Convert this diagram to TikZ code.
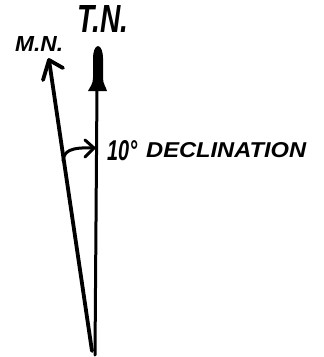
\documentclass[tikz,border=0pt]{standalone}
\usepackage{fontspec}
\setmainfont{Liberation Sans}
\usepackage{graphicx}
\begin{document}
\begin{tikzpicture}[x=1pt,y=-1pt,
  ink/.style={line cap=round,line join=round,draw=black},
  lbl/.style={inner sep=0pt,anchor=south west,font=\bfseries\itshape}]
\useasboundingbox (0,0) rectangle (324,357);
% key points
\coordinate (base) at (95,355);
\coordinate (tnbase) at (97,88);
\coordinate (tntip) at (98,46);
\coordinate (mntip) at (49,60);
\coordinate (mnbase) at (92,351);
\coordinate (arcs) at (63,161);
\coordinate (arce) at (94,148);
% true north line with filled head
\draw[ink,line width=3pt] (base) -- (tnbase);
\fill (tntip) .. controls (101,46) and (103,52) .. (103,58)
  -- (103,78) .. controls (103,84) and (106,87) .. (107,91)
  -- (88,91) .. controls (90,87) and (93,84) .. (93,78)
  -- (93,58) .. controls (93,52) and (95,46) .. (tntip) -- cycle;
% magnetic north line with open head
\draw[ink,line width=3.8pt] (mnbase) -- (mntip);
\draw[ink,line width=3.8pt] (43,80) -- (mntip) -- (63,68);
% declination arc
\draw[ink,line width=3pt] (arcs) .. controls (64,151) and (70,147) .. (arce);
\draw[ink,line width=3pt] (85,140) -- (arce) -- (85,157);
% labels
\node[lbl] (tn) at (77,33) {\resizebox{51pt}{27pt}{T.N.}};
\node[lbl] (mn) at (15,52) {\resizebox{48pt}{15pt}{M.N.}};
\node[lbl] (ten) at (107,161) {\resizebox{30pt}{20pt}{10°}};
\node[lbl] (decl) at (146,158) {\resizebox{160pt}{15pt}{DECLINATION}};
\end{tikzpicture}
\end{document}
